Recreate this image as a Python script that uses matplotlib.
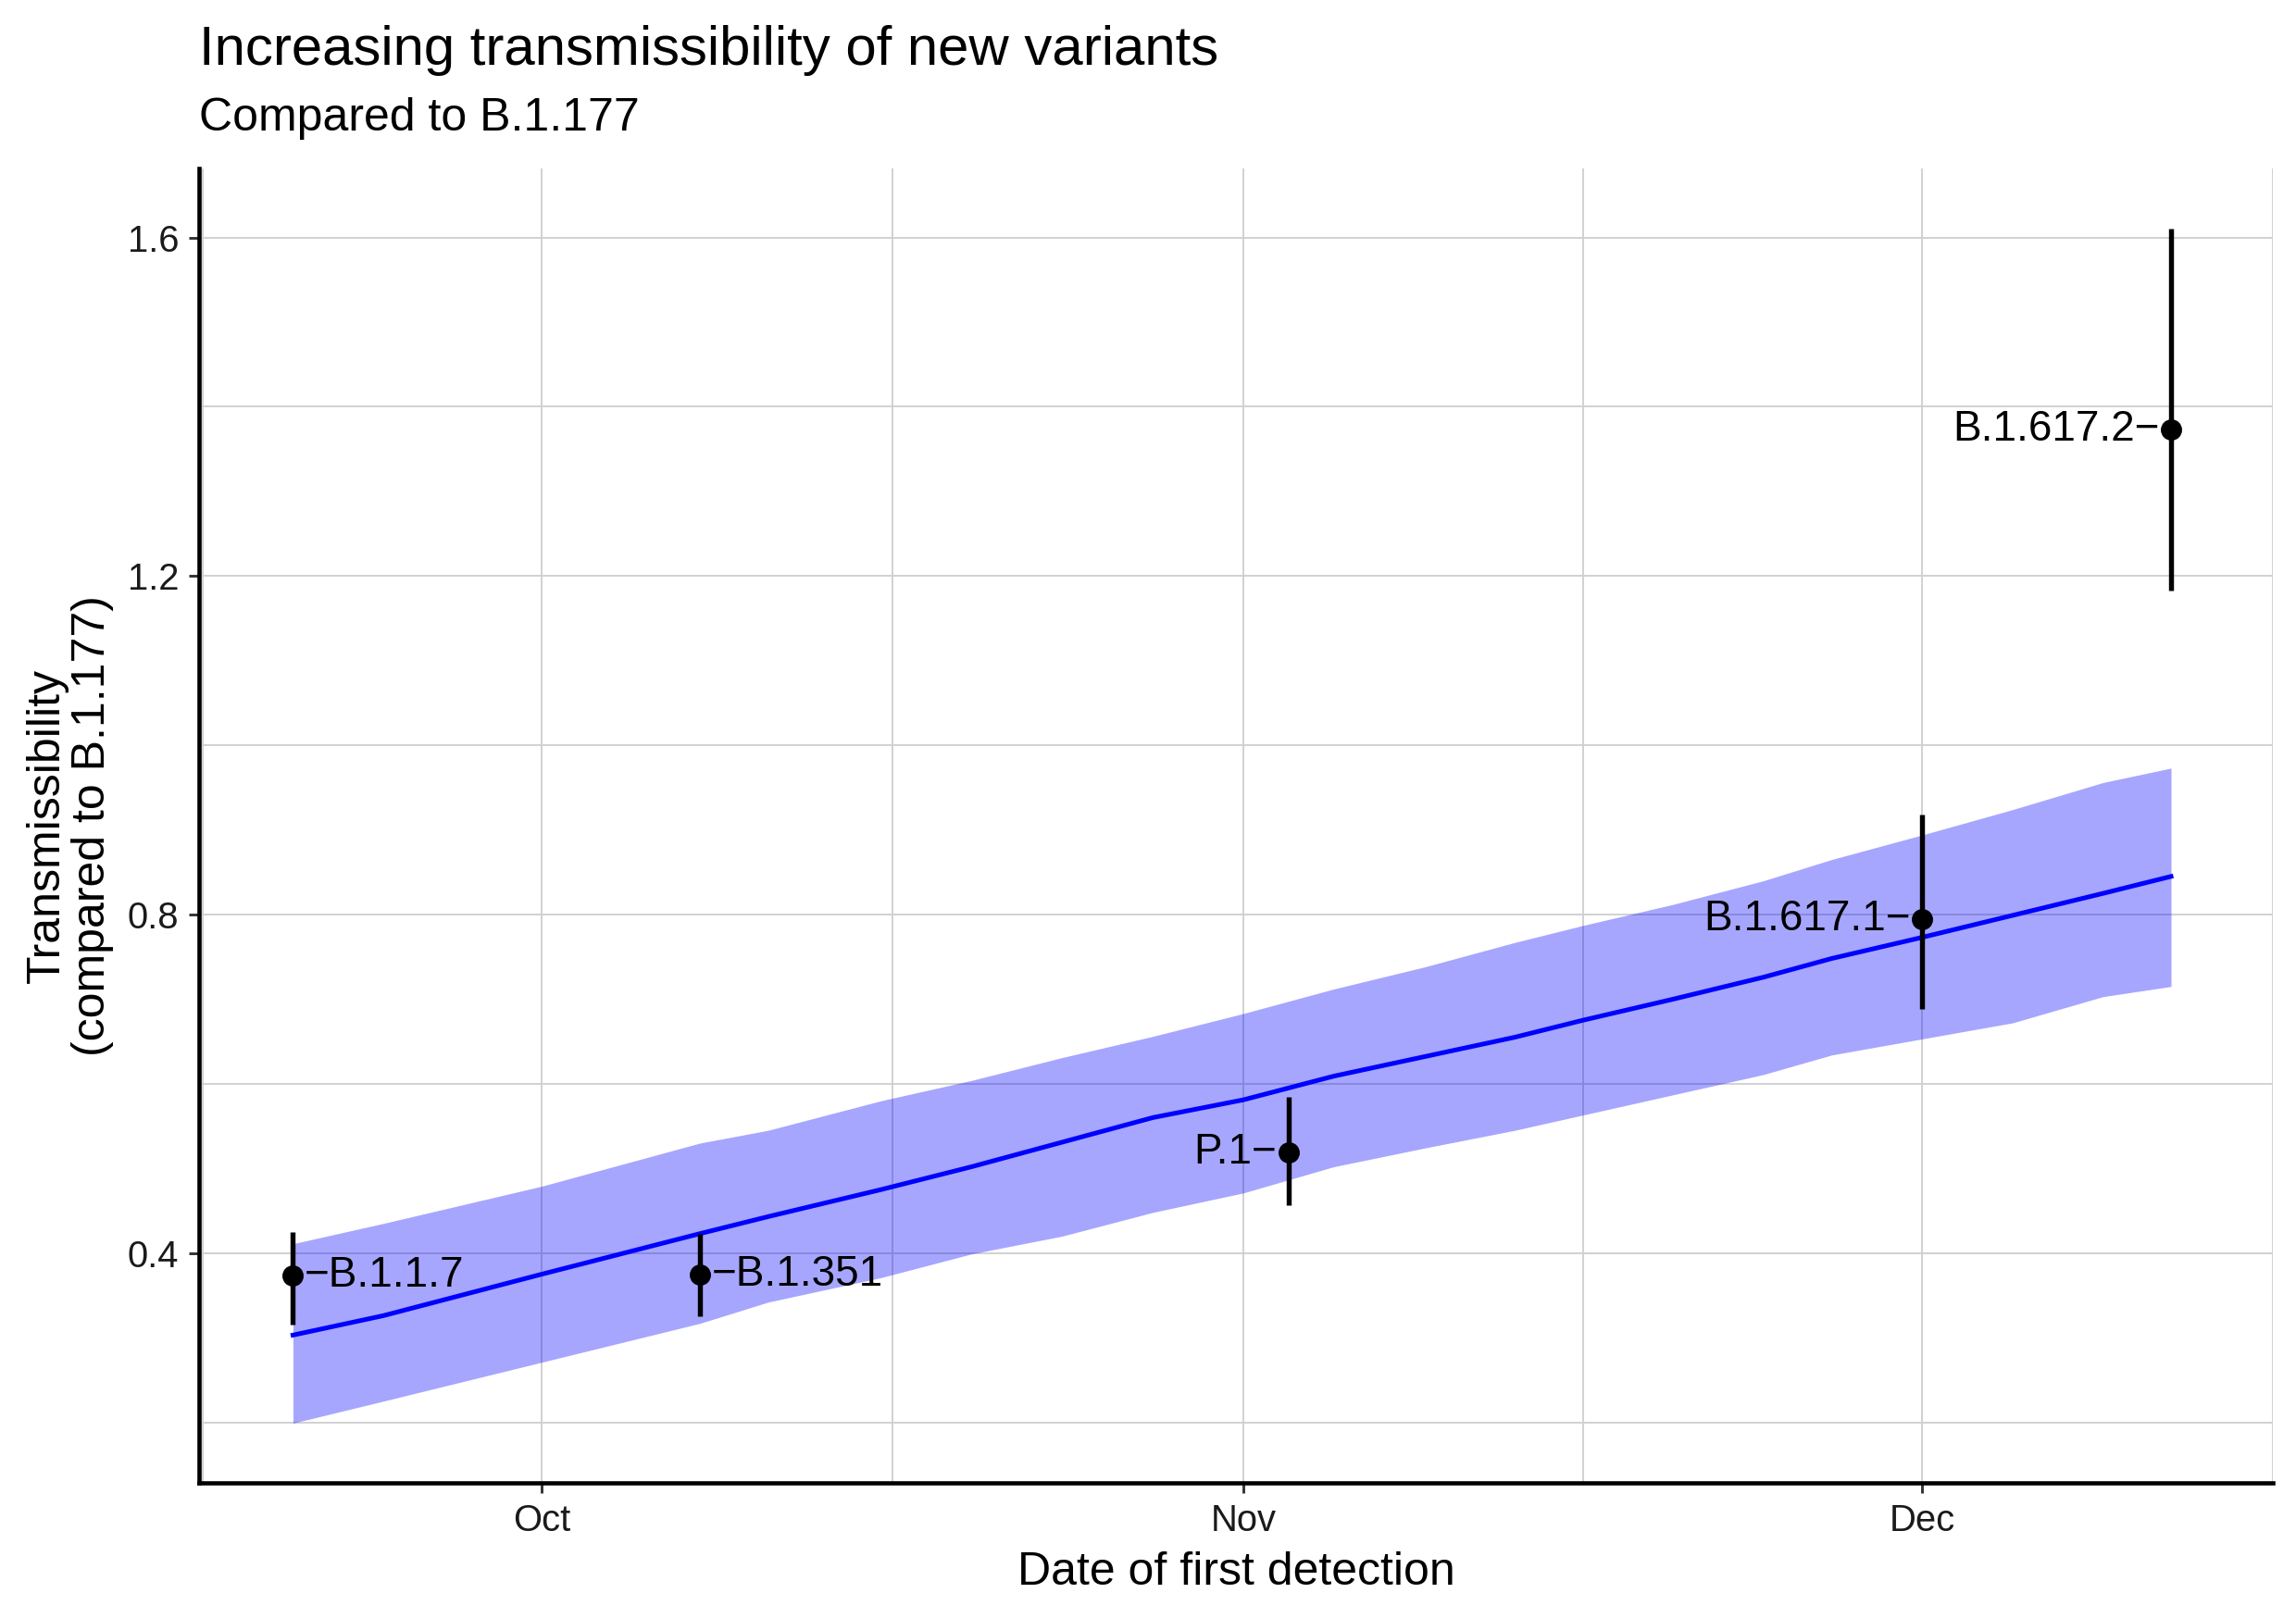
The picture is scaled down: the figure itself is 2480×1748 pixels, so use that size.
import matplotlib
import numpy as np
import pandas as pd
from matplotlib import pyplot as plt
import matplotlib.dates as mdates

matplotlib.use("Agg")

plt.rcParams["font.family"] = ["Liberation Sans", "DejaVu Sans"]

# variant estimates (transmissibility relative to B.1.177)
variant_names = ["B.1.1.7", "B.1.351", "P.1", "B.1.617.1", "B.1.617.2"]
variant_dates = pd.to_datetime(
    ["2020-09-20", "2020-10-08", "2020-11-03", "2020-12-01", "2020-12-12"]
)
variant_est = [0.373, 0.375, 0.519, 0.795, 1.373]
variant_low = [0.315, 0.325, 0.457, 0.688, 1.183]
variant_high = [0.425, 0.423, 0.585, 0.918, 1.611]
label_side = ["right", "right", "left", "left", "left"]

# fitted trend and its band
trend_dates = pd.to_datetime([
    "2020-09-20", "2020-09-24", "2020-10-01", "2020-10-08", "2020-10-11",
    "2020-10-16", "2020-10-20", "2020-10-24", "2020-10-28", "2020-11-01",
    "2020-11-05", "2020-11-09", "2020-11-13", "2020-11-16", "2020-11-20",
    "2020-11-24", "2020-11-27", "2020-12-01", "2020-12-05", "2020-12-09",
    "2020-12-12",
])
trend_fit = [0.303, 0.326, 0.375, 0.423, 0.443, 0.475, 0.502, 0.531, 0.560,
             0.581, 0.609, 0.632, 0.655, 0.675, 0.700, 0.726, 0.748, 0.773,
             0.799, 0.825, 0.845]
trend_low = [0.199, 0.225, 0.271, 0.317, 0.342, 0.371, 0.399, 0.420, 0.448,
             0.471, 0.502, 0.524, 0.545, 0.563, 0.587, 0.611, 0.634, 0.653,
             0.672, 0.703, 0.715]
trend_high = [0.411, 0.435, 0.479, 0.530, 0.545, 0.580, 0.604, 0.631, 0.656,
              0.683, 0.712, 0.738, 0.767, 0.787, 0.812, 0.840, 0.865, 0.894,
              0.924, 0.956, 0.973]

W, H = 2480, 1748
fig = plt.figure(figsize=(W / 300, H / 300), dpi=300)
ax = fig.add_axes([215 / W, 1 - 1602 / H, (2455 - 215) / W, (1602 - 182) / H])

grid_kw = dict(color="#d0d0d0", linewidth=0.45, zorder=0)

ax.fill_between(trend_dates, trend_low, trend_high, color="blue", alpha=0.35,
                linewidth=0, zorder=2)
ax.plot(trend_dates, trend_fit, color="blue", linewidth=1.2, zorder=3)

ax.vlines(variant_dates, variant_low, variant_high, color="black",
          linewidth=1.3, zorder=4)
ax.plot(variant_dates, variant_est, "o", color="black", markersize=4.5,
        zorder=5)

for name, d, y, side in zip(variant_names, variant_dates, variant_est, label_side):
    if side == "right":
        ax.annotate("\u2212" + name, (d, y), xytext=(3.0, 0),
                    textcoords="offset points", ha="left", va="center",
                    fontsize=11, zorder=6)
    else:
        ax.annotate(name + "\u2212", (d, y), xytext=(-3.0, 0),
                    textcoords="offset points", ha="right", va="center",
                    fontsize=11, zorder=6)

# ggplot-style 5% expansion
x0 = mdates.date2num(trend_dates[0])
x1 = mdates.date2num(variant_dates[-1])
xpad = 0.05 * (x1 - x0)
ax.set_xlim(x0 - xpad, x1 + xpad)
y0 = min(min(trend_low), min(variant_low))
y1 = max(max(trend_high), max(variant_high))
ypad = 0.05 * (y1 - y0)
ax.set_ylim(y0 - ypad, y1 + ypad)

major_x = pd.to_datetime(["2020-09-01", "2020-10-01", "2020-11-01",
                          "2020-12-01", "2021-01-01"])
major_num = mdates.date2num(major_x)
minor_num = (major_num[:-1] + major_num[1:]) / 2
ax.set_xticks(major_num[1:4])
ax.set_xticklabels(["Oct", "Nov", "Dec"])
ax.set_xticks(minor_num, minor=True)
ax.set_yticks([0.4, 0.8, 1.2, 1.6])
ax.set_yticklabels(["0.4", "0.8", "1.2", "1.6"])
ax.set_yticks([0.2, 0.6, 1.0, 1.4], minor=True)

ax.grid(True, which="both", **grid_kw)
ax.set_axisbelow(True)

for s in ["top", "right"]:
    ax.spines[s].set_visible(False)
for s in ["left", "bottom"]:
    ax.spines[s].set_linewidth(1.1)
    ax.spines[s].set_color("black")

ax.tick_params(which="major", length=2.75, width=0.7, color="#333333",
               labelsize=9.6, labelcolor="#1a1a1a", pad=2.5)
ax.tick_params(which="minor", length=0)

ax.set_xlabel("Date of first detection", fontsize=12, labelpad=3.5)
ax.set_ylabel("Transmissibility\n(compared to B.1.177)", fontsize=12,
              labelpad=3.5, linespacing=1.1)

fig.text(215 / W, 1 - 70 / H, "Increasing transmissibility of new variants",
         fontsize=14.4, va="baseline", ha="left")
fig.text(215 / W, 1 - 141 / H, "Compared to B.1.177", fontsize=12,
         va="baseline", ha="left")

fig.savefig("out.png", dpi=300)
plt.close(fig)
